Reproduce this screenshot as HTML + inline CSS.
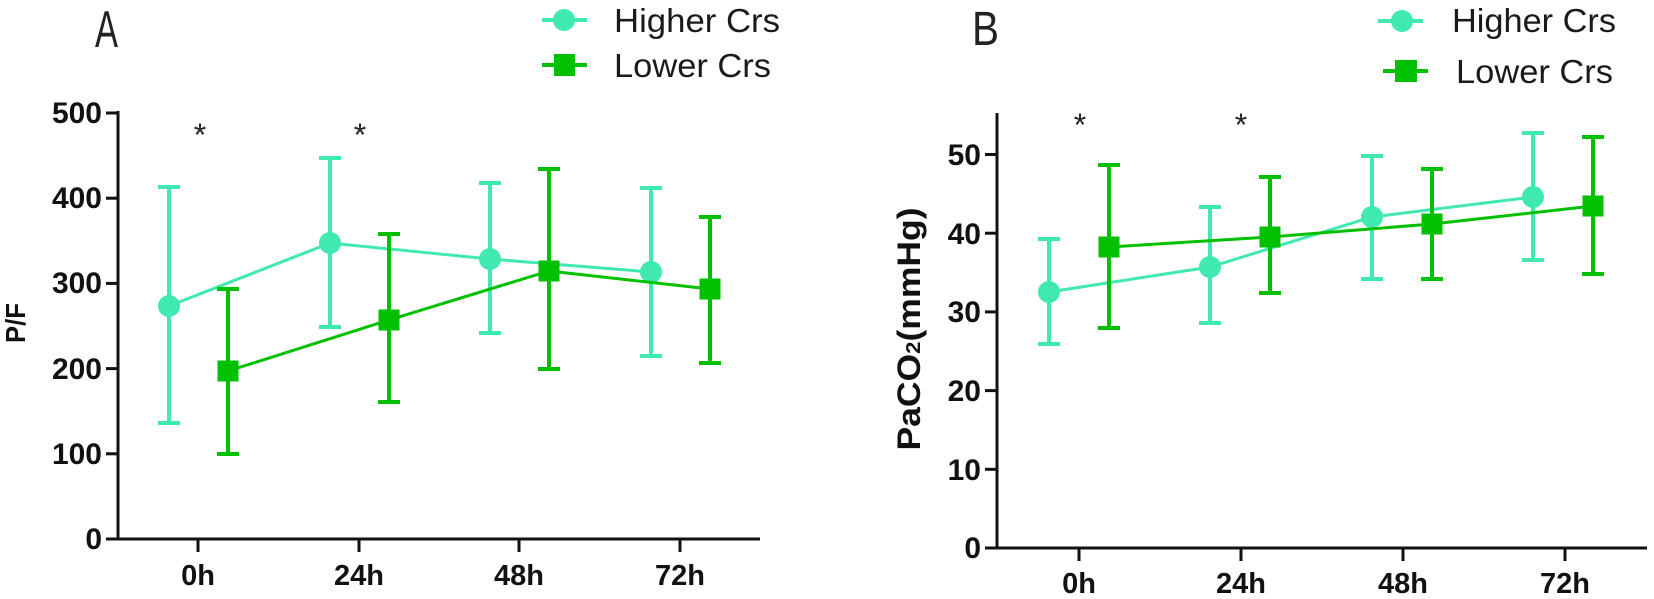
<!DOCTYPE html>
<html><head><meta charset="utf-8"><style>
html,body{margin:0;padding:0;background:#fff;}
svg{display:block;}
text{font-family:"Liberation Sans",Arial,sans-serif;}
</style></head><body>
<svg width="1654" height="599" viewBox="0 0 1654 599" xmlns="http://www.w3.org/2000/svg">
<rect width="1654" height="599" fill="#fff"/>

<!-- ===== Panel A ===== -->
<text x="95" y="47" font-family="Liberation Serif, serif" font-size="52" textLength="23" lengthAdjust="spacingAndGlyphs" fill="#222">A</text>

<!-- legend A -->
<line x1="542" y1="20" x2="587" y2="20" stroke="#40E8B2" stroke-width="4"/>
<circle cx="564" cy="20" r="11" fill="#40E8B2"/>
<text x="614" y="32" font-size="33" textLength="166" lengthAdjust="spacingAndGlyphs" fill="#1a1a1a">Higher Crs</text>
<line x1="542" y1="65" x2="587" y2="65" stroke="#00C000" stroke-width="4"/>
<rect x="554" y="54" width="21" height="22" fill="#00C000"/>
<text x="614" y="77" font-size="33" textLength="157" lengthAdjust="spacingAndGlyphs" fill="#1a1a1a">Lower Crs</text>

<!-- axes A -->
<g stroke="#111" stroke-width="3" fill="none">
<line x1="118" y1="111" x2="118" y2="540.5"/>
<line x1="106" y1="539" x2="760" y2="539"/>
<line x1="106" y1="113" x2="118" y2="113"/>
<line x1="106" y1="198.2" x2="118" y2="198.2"/>
<line x1="106" y1="283.4" x2="118" y2="283.4"/>
<line x1="106" y1="368.6" x2="118" y2="368.6"/>
<line x1="106" y1="453.8" x2="118" y2="453.8"/>
<line x1="198" y1="539" x2="198" y2="552"/>
<line x1="359" y1="539" x2="359" y2="552"/>
<line x1="519" y1="539" x2="519" y2="552"/>
<line x1="680" y1="539" x2="680" y2="552"/>
</g>
<g font-size="30" font-weight="bold" fill="#111" text-anchor="end">
<text x="102" y="123">500</text>
<text x="102" y="208">400</text>
<text x="102" y="293">300</text>
<text x="102" y="379">200</text>
<text x="102" y="464">100</text>
<text x="102" y="549">0</text>
</g>
<g font-size="29" font-weight="bold" fill="#111" text-anchor="middle">
<text x="198" y="585">0h</text>
<text x="359" y="585">24h</text>
<text x="519" y="585">48h</text>
<text x="680" y="585">72h</text>
</g>
<text transform="translate(25,323) rotate(-90)" text-anchor="middle" font-size="28" font-weight="bold" fill="#111" textLength="40" lengthAdjust="spacingAndGlyphs">P/F</text>
<g font-size="32" fill="#222" text-anchor="middle">
<text x="200" y="146">*</text>
<text x="360" y="146">*</text>
</g>

<!-- Higher A -->
<g stroke="#40E8B2" fill="none">
<polyline points="169,306 330,243 490,259 651,272" stroke-width="3"/>
<g stroke-width="4">
<line x1="169" y1="187" x2="169" y2="423"/><line x1="158" y1="187" x2="180" y2="187"/><line x1="158" y1="423" x2="180" y2="423"/>
<line x1="330" y1="158" x2="330" y2="327"/><line x1="319" y1="158" x2="341" y2="158"/><line x1="319" y1="327" x2="341" y2="327"/>
<line x1="490" y1="183" x2="490" y2="333"/><line x1="479" y1="183" x2="501" y2="183"/><line x1="479" y1="333" x2="501" y2="333"/>
<line x1="651" y1="188" x2="651" y2="356"/><line x1="640" y1="188" x2="662" y2="188"/><line x1="640" y1="356" x2="662" y2="356"/>
</g>
</g>
<g fill="#40E8B2">
<circle cx="169" cy="306" r="11"/><circle cx="330" cy="243" r="11"/><circle cx="490" cy="259" r="11"/><circle cx="651" cy="272" r="11"/>
</g>
<!-- Lower A -->
<g stroke="#00C000" fill="none">
<polyline points="228,371 389,320 549,271 710,289" stroke-width="3"/>
<g stroke-width="4">
<line x1="228" y1="289" x2="228" y2="454"/><line x1="217" y1="289" x2="239" y2="289"/><line x1="217" y1="454" x2="239" y2="454"/>
<line x1="389" y1="234" x2="389" y2="402"/><line x1="378" y1="234" x2="400" y2="234"/><line x1="378" y1="402" x2="400" y2="402"/>
<line x1="549" y1="169" x2="549" y2="369"/><line x1="538" y1="169" x2="560" y2="169"/><line x1="538" y1="369" x2="560" y2="369"/>
<line x1="710" y1="217" x2="710" y2="363"/><line x1="699" y1="217" x2="721" y2="217"/><line x1="699" y1="363" x2="721" y2="363"/>
</g>
</g>
<g fill="#00C000">
<rect x="217.5" y="360.5" width="21" height="21"/><rect x="378.5" y="309.5" width="21" height="21"/><rect x="538.5" y="260.5" width="21" height="21"/><rect x="699.5" y="278.5" width="21" height="21"/>
</g>

<!-- ===== Panel B ===== -->
<text x="972" y="45" font-family="Liberation Serif, serif" font-size="48" textLength="27" lengthAdjust="spacingAndGlyphs" fill="#222">B</text>

<!-- legend B -->
<line x1="1378" y1="21" x2="1423" y2="21" stroke="#40E8B2" stroke-width="4"/>
<circle cx="1402" cy="21" r="11" fill="#40E8B2"/>
<text x="1452" y="32" font-size="33" textLength="164" lengthAdjust="spacingAndGlyphs" fill="#1a1a1a">Higher Crs</text>
<line x1="1383" y1="71" x2="1428" y2="71" stroke="#00C000" stroke-width="4"/>
<rect x="1395" y="60" width="22" height="22" fill="#00C000"/>
<text x="1456" y="83" font-size="33" textLength="157" lengthAdjust="spacingAndGlyphs" fill="#1a1a1a">Lower Crs</text>

<!-- axes B -->
<g stroke="#111" stroke-width="3" fill="none">
<line x1="997" y1="113" x2="997" y2="549.5"/>
<line x1="985" y1="548" x2="1647" y2="548"/>
<line x1="985" y1="154.5" x2="997" y2="154.5"/>
<line x1="985" y1="233.2" x2="997" y2="233.2"/>
<line x1="985" y1="311.9" x2="997" y2="311.9"/>
<line x1="985" y1="390.6" x2="997" y2="390.6"/>
<line x1="985" y1="469.3" x2="997" y2="469.3"/>
<line x1="1079" y1="548" x2="1079" y2="561"/>
<line x1="1241" y1="548" x2="1241" y2="561"/>
<line x1="1403" y1="548" x2="1403" y2="561"/>
<line x1="1565" y1="548" x2="1565" y2="561"/>
</g>
<g font-size="30" font-weight="bold" fill="#111" text-anchor="end">
<text x="981" y="165">50</text>
<text x="981" y="244">40</text>
<text x="981" y="322">30</text>
<text x="981" y="401">20</text>
<text x="981" y="480">10</text>
<text x="981" y="558">0</text>
</g>
<g font-size="29" font-weight="bold" fill="#111" text-anchor="middle">
<text x="1079" y="593">0h</text>
<text x="1241" y="593">24h</text>
<text x="1403" y="593">48h</text>
<text x="1565" y="593">72h</text>
</g>
<text transform="translate(920,329) rotate(-90)" text-anchor="middle" font-size="32" font-weight="bold" fill="#111" textLength="243" lengthAdjust="spacingAndGlyphs">PaCO<tspan font-size="20">2</tspan>(mmHg)</text>
<g font-size="32" fill="#222" text-anchor="middle">
<text x="1080" y="136">*</text>
<text x="1241" y="136">*</text>
</g>

<!-- Higher B -->
<g stroke="#40E8B2" fill="none">
<polyline points="1049,292 1210,267 1372,217 1533,197" stroke-width="3"/>
<g stroke-width="4">
<line x1="1049" y1="239" x2="1049" y2="344"/><line x1="1038" y1="239" x2="1060" y2="239"/><line x1="1038" y1="344" x2="1060" y2="344"/>
<line x1="1210" y1="207" x2="1210" y2="323"/><line x1="1199" y1="207" x2="1221" y2="207"/><line x1="1199" y1="323" x2="1221" y2="323"/>
<line x1="1372" y1="156" x2="1372" y2="279"/><line x1="1361" y1="156" x2="1383" y2="156"/><line x1="1361" y1="279" x2="1383" y2="279"/>
<line x1="1533" y1="133" x2="1533" y2="260"/><line x1="1522" y1="133" x2="1544" y2="133"/><line x1="1522" y1="260" x2="1544" y2="260"/>
</g>
</g>
<g fill="#40E8B2">
<circle cx="1049" cy="292" r="11"/><circle cx="1210" cy="267" r="11"/><circle cx="1372" cy="217" r="11"/><circle cx="1533" cy="197" r="11"/>
</g>
<!-- Lower B -->
<g stroke="#00C000" fill="none">
<polyline points="1109,247 1270,237 1432,224 1593,206" stroke-width="3"/>
<g stroke-width="4">
<line x1="1109" y1="165" x2="1109" y2="328"/><line x1="1098" y1="165" x2="1120" y2="165"/><line x1="1098" y1="328" x2="1120" y2="328"/>
<line x1="1270" y1="177" x2="1270" y2="293"/><line x1="1259" y1="177" x2="1281" y2="177"/><line x1="1259" y1="293" x2="1281" y2="293"/>
<line x1="1432" y1="169" x2="1432" y2="279"/><line x1="1421" y1="169" x2="1443" y2="169"/><line x1="1421" y1="279" x2="1443" y2="279"/>
<line x1="1593" y1="137" x2="1593" y2="274"/><line x1="1582" y1="137" x2="1604" y2="137"/><line x1="1582" y1="274" x2="1604" y2="274"/>
</g>
</g>
<g fill="#00C000">
<rect x="1098.5" y="236.5" width="21" height="21"/><rect x="1259.5" y="226.5" width="21" height="21"/><rect x="1421.5" y="213.5" width="21" height="21"/><rect x="1582.5" y="195.5" width="21" height="21"/>
</g>
</svg>
</body></html>
